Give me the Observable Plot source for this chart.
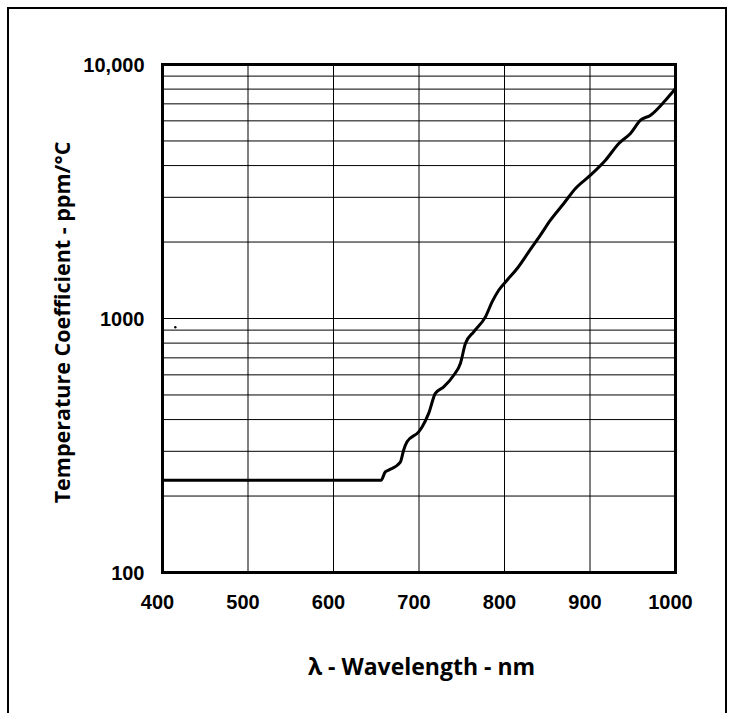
<!DOCTYPE html>
<html>
<head>
<meta charset="utf-8">
<script src="https://cdn.jsdelivr.net/npm/d3@7"></script>
<script src="https://cdn.jsdelivr.net/npm/@observablehq/plot@0.6"></script>
<style>
  html, body { margin: 0; padding: 0; background: #fff; }
  #wrap { position: relative; width: 729px; height: 713px; overflow: hidden; }
  #border { position: absolute; left: 7px; top: 7px; width: 716px; height: 740px; border: 2px solid #000; box-sizing: content-box; pointer-events: none; }
</style>
</head>
<body>
<div id="wrap"><div id="border"></div></div>
<script>
// Wavelength (nm) and temperature coefficient (ppm/°C)
const wavelength = [400, 655.6, 660.6, 664.5, 678.2, 682.0, 686.0, 699.6, 703.6, 711.3, 719.1, 728.9, 740.6, 748.4, 754.3, 764.0, 777.7, 785.5, 793.2, 803.0, 814.8, 828.3, 842.0, 853.7, 869.3, 883.0, 900.5, 918.1, 933.7, 947.3, 959.1, 970.8, 988.3, 1000];
const tempCoef   = [231, 231, 249, 253, 272, 303, 327, 358, 374, 423, 507, 538, 598, 665, 797, 886, 1015, 1163, 1292, 1415, 1573, 1829, 2128, 2438, 2837, 3250, 3666, 4200, 4887, 5350, 6036, 6317, 7235, 8045];

// small stray mark present in the original figure
const strayX = [415];
const strayY = [924];

const xTicks = [400, 500, 600, 700, 800, 900, 1000];
const xGrid = [500, 600, 700, 800, 900];
const yTicks = [100, 1000, 10000];
const yTickLabels = ["100", "1000", "10,000"];
const yGrid = [200, 300, 400, 500, 600, 700, 800, 900, 1000, 2000, 3000, 4000, 5000, 6000, 7000, 8000, 9000];

const xTitle = "λ - Wavelength - nm";
const yTitle = "Temperature Coefficient - ppm/°C";

const data = wavelength.map((w, i) => ({w, t: tempCoef[i]}));
const stray = strayX.map((w, i) => ({w, t: strayY[i]}));

const chart = Plot.plot({
  width: 729,
  height: 713,
  marginLeft: 162,
  marginRight: 54,
  marginTop: 64,
  marginBottom: 141,
  style: {background: "transparent", fontFamily: "'Liberation Sans', Arial, sans-serif", color: "#000"},
  x: {domain: [400, 1000]},
  y: {type: "log", domain: [100, 10000]},
  marks: [
    Plot.ruleY(yGrid, {stroke: "#000", strokeWidth: 1}),
    Plot.ruleX(xGrid, {stroke: "#000", strokeWidth: 1}),
    Plot.line(data, {x: "w", y: "t", stroke: "#000", strokeWidth: 3, strokeLinejoin: "round", strokeLinecap: "round", curve: "monotone-x"}),
    Plot.dot(stray, {x: "w", y: "t", r: 1.2, fill: "#000", stroke: null}),
    Plot.frame({stroke: "#000", strokeWidth: 3}),
    Plot.axisX({ticks: xTicks, tickSize: 0, tickPadding: 22, dx: -5, label: null, fontSize: 20, fontWeight: "bold", tickFormat: d => String(d)}),
    Plot.axisY({ticks: yTicks, tickSize: 0, tickPadding: 18, dy: 1, label: null, fontSize: 20, fontWeight: "bold", tickFormat: d => yTickLabels[yTicks.indexOf(d)]}),
    Plot.text([yTitle], {frameAnchor: "left", rotate: -90, dx: -99, dy: 4, textAnchor: "middle", lineAnchor: "middle", fontSize: 21.5, fontWeight: "bold", fontFamily: "'Open Sans', sans-serif"}),
    Plot.text([xTitle], {frameAnchor: "bottom", dx: 2.5, dy: 95, textAnchor: "middle", lineAnchor: "middle", fontSize: 23, fontWeight: "bold", fontFamily: "'Open Sans', sans-serif"})
  ]
});
document.getElementById("wrap").prepend(chart);
</script>
</body>
</html>
